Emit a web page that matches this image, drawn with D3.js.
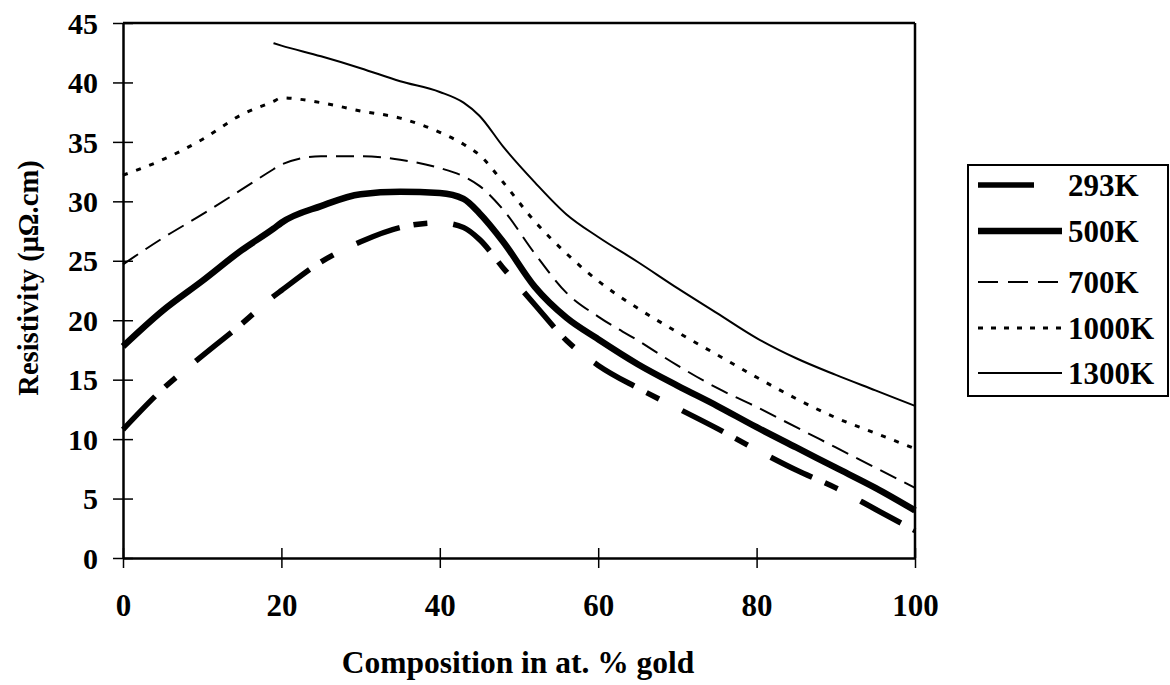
<!DOCTYPE html>
<html>
<head>
<meta charset="utf-8">
<script src="https://cdn.jsdelivr.net/npm/d3@7"></script>
<style>
  html, body { margin: 0; padding: 0; background: #fff; }
  svg { display: block; }
  text { font-family: "Liberation Serif", "Times New Roman", serif; font-weight: bold; fill: #000; }
</style>
</head>
<body>
<svg id="chart" width="1170" height="685"></svg>
<script>
// ---- data ----
const composition = [0, 5, 10, 15, 19, 20, 25, 30, 35, 40, 43, 45, 48, 52, 56, 60, 65, 70, 75, 80, 85, 90, 95, 100];
const r293K  = [10.8, 14.2, 17.0, 19.7, 22.0, 22.5, 24.9, 26.6, 27.8, 28.2, 27.8, 26.8, 24.4, 21.3, 18.3, 16.2, 14.3, 12.6, 10.9, 9.1, 7.4, 5.9, 4.1, 2.3];
const r500K  = [17.8, 20.8, 23.3, 25.9, 27.7, 28.2, 29.6, 30.6, 30.8, 30.7, 30.2, 29.0, 26.6, 22.8, 20.2, 18.4, 16.3, 14.5, 12.8, 11.0, 9.3, 7.6, 5.9, 4.0];
const r700K  = [24.7, 26.9, 28.9, 31.0, 32.7, 33.1, 33.8, 33.8, 33.5, 32.8, 32.1, 31.3, 29.3, 25.6, 22.3, 20.3, 18.3, 16.2, 14.3, 12.7, 11.0, 9.3, 7.6, 5.9];
const r1000K = [32.2, 33.5, 35.2, 37.3, 38.4, 38.7, 38.3, 37.6, 37.0, 35.8, 34.8, 33.9, 31.6, 28.3, 25.6, 23.3, 21.0, 19.0, 17.1, 15.2, 13.4, 11.8, 10.5, 9.2];
const r1300K = [null, null, null, null, 43.3, 43.1, 42.2, 41.2, 40.1, 39.2, 38.3, 37.2, 34.6, 31.6, 28.9, 27.0, 24.9, 22.7, 20.6, 18.5, 16.8, 15.4, 14.1, 12.8];
const seriesNames = ["293K", "500K", "700K", "1000K", "1300K"];
const xTicks = [0, 20, 40, 60, 80, 100];
const yTicks = [0, 5, 10, 15, 20, 25, 30, 35, 40, 45];
const xTitle = "Composition in at. % gold";
const yTitle = "Resistivity (\u03bc\u03a9.cm)";

// ---- styles ----
const styles = {
  "293K":  { w: 5.5, dash: "46,14,14,26", legendDash: null, legendLen: 56 },
  "500K":  { w: 6.5, dash: null,          legendDash: null, legendLen: 84 },
  "700K":  { w: 2,   dash: "18,9",        legendDash: "20,10", legendLen: 80 },
  "1000K": { w: 3,   dash: "5,9",         legendDash: "5,8", legendLen: 84 },
  "1300K": { w: 2,   dash: null,          legendDash: null, legendLen: 84 }
};
const seriesValues = [r293K, r500K, r700K, r1000K, r1300K];

const svg = d3.select("#chart");
const x = d3.scaleLinear().domain([0, 100]).range([123, 915]);
const y = d3.scaleLinear().domain([0, 45]).range([558, 23]);

// frame: top and right border
svg.append("line").attr("x1", x(0)).attr("x2", x(100)).attr("y1", y(45)).attr("y2", y(45))
  .attr("stroke", "#000").attr("stroke-width", 2.5);
svg.append("line").attr("x1", x(100)).attr("x2", x(100)).attr("y1", y(45)).attr("y2", y(0))
  .attr("stroke", "#000").attr("stroke-width", 2.5);

// axes
const yAxis = svg.append("g").attr("transform", `translate(${x(0)},0)`)
  .call(d3.axisLeft(y).tickValues(yTicks).tickSize(10).tickPadding(15).tickSizeOuter(0));
yAxis.select(".domain").attr("stroke-width", 2.5);
yAxis.selectAll(".tick line").attr("x1", 10).attr("x2", -10).attr("stroke-width", 1.5);
yAxis.selectAll(".tick text").style("font-size", "30px").attr("dy", "0.34em");

const xAxis = svg.append("g").attr("transform", `translate(0,${y(0)})`)
  .call(d3.axisBottom(x).tickValues(xTicks).tickSize(10).tickPadding(26).tickSizeOuter(0));
xAxis.select(".domain").attr("stroke-width", 2.5);
xAxis.selectAll(".tick line").attr("y1", -10).attr("y2", 10).attr("stroke-width", 1.5);
xAxis.selectAll(".tick text").style("font-size", "31px");
svg.selectAll(".domain, .tick line").attr("stroke", "#000");
svg.selectAll(".tick text").attr("fill", "#000").attr("font-family", "Liberation Serif").attr("font-weight", "bold");

// titles
svg.append("text").attr("x", 518).attr("y", 673).attr("text-anchor", "middle")
  .style("font-size", "31.5px").text(xTitle);
svg.append("text").attr("transform", `translate(38,278) rotate(-90)`).attr("text-anchor", "middle")
  .style("font-size", "28.5px").text(yTitle);

// lines
const line = d3.line()
  .defined(d => d[1] !== null)
  .x(d => x(d[0])).y(d => y(d[1]))
  .curve(d3.curveMonotoneX);

seriesNames.forEach((name, i) => {
  const pts = composition.map((c, j) => [c, seriesValues[i][j]]);
  const st = styles[name];
  svg.append("path").datum(pts)
    .attr("d", line)
    .attr("fill", "none").attr("stroke", "#000")
    .attr("stroke-width", st.w)
    .attr("stroke-dasharray", st.dash)
    .attr("stroke-linecap", "butt");
});

// legend
const lg = svg.append("g");
lg.append("rect").attr("x", 968).attr("y", 165).attr("width", 200).attr("height", 231)
  .attr("fill", "none").attr("stroke", "#000").attr("stroke-width", 2);
const legendY = [185, 231, 282, 328, 373];
seriesNames.forEach((name, i) => {
  const st = styles[name];
  lg.append("line").attr("x1", 978).attr("x2", 978 + st.legendLen)
    .attr("y1", legendY[i]).attr("y2", legendY[i])
    .attr("stroke", "#000").attr("stroke-width", st.w)
    .attr("stroke-dasharray", st.legendDash);
  lg.append("text").attr("x", 1068).attr("y", legendY[i]).attr("dy", "0.34em")
    .style("font-size", "31px").text(name);
});
</script>
</body>
</html>
